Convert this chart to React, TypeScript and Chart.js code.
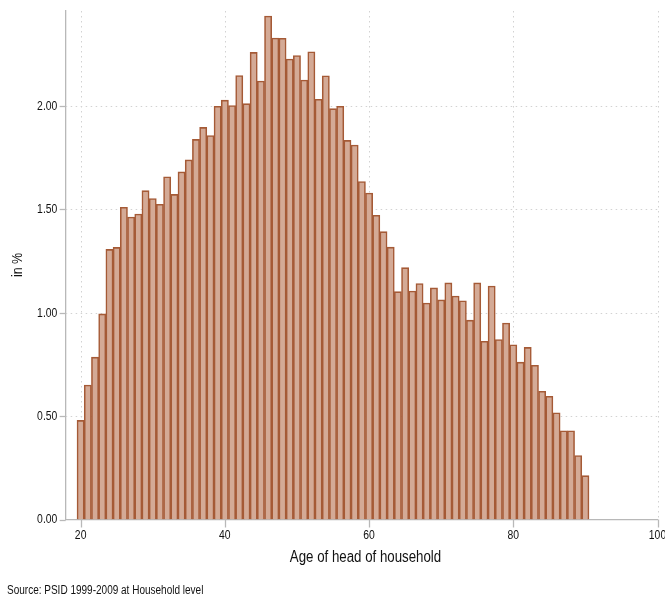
import React, { useEffect, useRef } from "react";
import { Chart, registerables } from "chart.js";

Chart.register(...registerables);

const ages: number[] = [
  20, 21, 22, 23, 24, 25, 26, 27, 28, 29, 30, 31, 32, 33, 34, 35, 36, 37, 38, 39,
  40, 41, 42, 43, 44, 45, 46, 47, 48, 49, 50, 51, 52, 53, 54, 55, 56, 57, 58, 59,
  60, 61, 62, 63, 64, 65, 66, 67, 68, 69, 70, 71, 72, 73, 74, 75, 76, 77, 78, 79,
  80, 81, 82, 83, 84, 85, 86, 87, 88, 89, 90,
];

const percents: number[] = [
  0.479, 0.65, 0.785, 0.994, 1.306, 1.316, 1.51, 1.463, 1.477, 1.59,
  1.552, 1.524, 1.657, 1.572, 1.681, 1.739, 1.838, 1.896, 1.857, 1.998,
  2.028, 2.002, 2.147, 2.011, 2.259, 2.12, 2.435, 2.328, 2.327, 2.227,
  2.244, 2.125, 2.262, 2.032, 2.146, 1.987, 1.998, 1.833, 1.811, 1.634,
  1.579, 1.471, 1.392, 1.317, 1.102, 1.218, 1.105, 1.141, 1.047, 1.12,
  1.062, 1.144, 1.081, 1.058, 0.964, 1.144, 0.862, 1.129, 0.87, 0.95,
  0.845, 0.761, 0.832, 0.746, 0.62, 0.596, 0.516, 0.429, 0.429, 0.309,
  0.212,
];

const xTicks: number[] = [20, 40, 60, 80, 100];
const yTicks: number[] = [0, 0.5, 1, 1.5, 2];

const xTitle = "Age of head of household";
const yTitle = "in %";
const sourceNote = "Source: PSID 1999-2009 at Household level";

const FONT = "'Liberation Sans', Arial, Helvetica, sans-serif";
const NARROW = 0.83;

function narrowText(
  ctx: CanvasRenderingContext2D,
  text: string,
  x: number,
  y: number,
  size: number,
  align: CanvasTextAlign,
  sx: number = NARROW
) {
  ctx.save();
  ctx.font = `${size}px ${FONT}`;
  ctx.textAlign = align;
  ctx.textBaseline = "middle";
  ctx.scale(sx, 1);
  ctx.fillText(text, x / sx, y);
  ctx.restore();
}

const gridPlugin = {
  id: "stataGrid",
  beforeDatasetsDraw(chart: any) {
    const { ctx, chartArea } = chart;
    const xs = chart.scales.x;
    const ys = chart.scales.y;
    ctx.save();
    ctx.strokeStyle = "#d2d2d2";
    ctx.lineWidth = 1;
    ctx.setLineDash([1.5, 3.5]);
    for (const v of yTicks) {
      if (v === 0) continue;
      const y = Math.round(ys.getPixelForValue(v)) + 0.5;
      ctx.beginPath();
      ctx.moveTo(chartArea.left, y);
      ctx.lineTo(chartArea.right, y);
      ctx.stroke();
    }
    for (const v of xTicks) {
      const x = Math.round(xs.getPixelForValue(v)) + 0.5;
      ctx.beginPath();
      ctx.moveTo(x, chartArea.top);
      ctx.lineTo(x, chartArea.bottom);
      ctx.stroke();
    }
    ctx.restore();
  },
  afterDraw(chart: any) {
    const { ctx, chartArea } = chart;
    const xs = chart.scales.x;
    const ys = chart.scales.y;
    ctx.save();
    ctx.setLineDash([]);
    ctx.strokeStyle = "#b8b8b8";
    ctx.lineWidth = 1.3;
    for (const v of yTicks) {
      const y = Math.round(ys.getPixelForValue(v)) + 0.5;
      ctx.beginPath();
      ctx.moveTo(chartArea.left - 6, y);
      ctx.lineTo(chartArea.left, y);
      ctx.stroke();
    }
    for (const v of xTicks) {
      const x = Math.round(xs.getPixelForValue(v)) + 0.5;
      ctx.beginPath();
      ctx.moveTo(x, chartArea.bottom);
      ctx.lineTo(x, chartArea.bottom + 8);
      ctx.stroke();
    }
    ctx.fillStyle = "#111111";
    for (const v of yTicks) {
      const y = ys.getPixelForValue(v);
      narrowText(ctx, v.toFixed(2), chartArea.left - 8.4, y + 0.5, 12.5, "right");
    }
    for (const v of xTicks) {
      const x = xs.getPixelForValue(v);
      narrowText(ctx, String(v), x, chartArea.bottom + 16.5, 12.5, "center");
    }
    narrowText(ctx, xTitle, 365.5, 557.5, 16, "center");
    narrowText(ctx, sourceNote, 7, 590.5, 12, "left", 0.834);
    ctx.translate(18, 265);
    ctx.rotate(-Math.PI / 2);
    narrowText(ctx, yTitle, 0, 0, 15, "center");
    ctx.restore();
  },
};

export default function App() {
  const ref = useRef<HTMLCanvasElement | null>(null);
  useEffect(() => {
    if (!ref.current) return;
    const chart = new Chart(ref.current, {
      type: "bar",
      data: {
        datasets: [
          {
            data: ages.map((a, i) => ({ x: a, y: percents[i] })),
            backgroundColor: "rgb(212,170,150)",
            borderColor: "rgb(165,90,54)",
            borderWidth: 1.6,
            barPercentage: 1,
            categoryPercentage: 1,
            borderSkipped: "bottom",
          },
        ],
      },
      options: {
        animation: false,
        responsive: false,
        maintainAspectRatio: false,
        layout: { padding: { left: 0, top: 11, right: 7.5, bottom: 0 } },
        plugins: {
          legend: { display: false },
          tooltip: { enabled: false },
          title: { display: false },
        },
        scales: {
          x: {
            type: "linear",
            offset: false,
            min: 17.93,
            max: 100,
            grid: { display: false, drawTicks: false, offset: false },
            border: { display: true, color: "#b8b8b8", width: 1.3 },
            afterBuildTicks: (s: any) => {
              s.ticks = xTicks.map((v) => ({ value: v }));
            },
            afterFit: (s: any) => {
              s.height = 77.5;
              s.paddingLeft = 0;
              s.paddingRight = 0;
            },
            ticks: { display: false },
          },
          y: {
            type: "linear",
            min: 0,
            max: 2.459,
            grid: { display: false, drawTicks: false },
            border: { display: true, color: "#b8b8b8", width: 1.3 },
            afterBuildTicks: (s: any) => {
              s.ticks = yTicks.map((v) => ({ value: v }));
            },
            afterFit: (s: any) => {
              s.width = 65.7;
              s.paddingTop = 0;
              s.paddingBottom = 0;
            },
            ticks: { display: false },
          },
        },
      },
      plugins: [gridPlugin],
    });
    return () => chart.destroy();
  }, []);
  return (
    <div style={{ position: "fixed", left: 0, top: 0, width: 665, height: 597, background: "#fff" }}>
      <canvas ref={ref} width={665} height={597} style={{ width: 665, height: 597 }} />
    </div>
  );
}
